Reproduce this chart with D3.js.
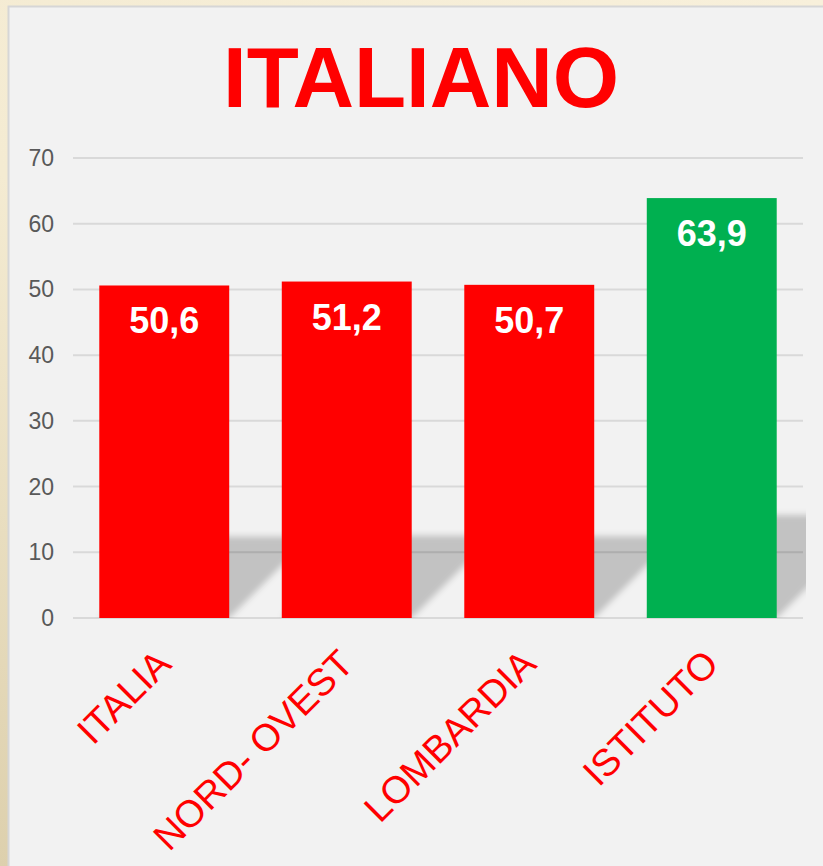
<!DOCTYPE html>
<html lang="it">
<head>
    <meta charset="UTF-8">
    <script src="https://d3js.org/d3.v7.min.js"></script>
    <style>
        body { margin: 0; background: #f6eed8; }
        text { font-family: "Liberation Sans", Arial, sans-serif; }
    </style>
</head>
<body>
<div id="chart"></div>
<script>
    // chart data
    var title = "ITALIANO";
    var categories = ["ITALIA", "NORD- OVEST", "LOMBARDIA", "ISTITUTO"];
    var values = [50.6, 51.2, 50.7, 63.9];
    var valueLabels = ["50,6", "51,2", "50,7", "63,9"];
    var barColors = ["#ff0000", "#ff0000", "#ff0000", "#00b050"];
    var yTicks = [0, 10, 20, 30, 40, 50, 60, 70];

    var W = 823, H = 866;
    var plot = {left: 73, right: 803, top: 158, bottom: 618};

    var svg = d3.select("#chart").append("svg")
        .attr("width", W)
        .attr("height", H);

    var defs = svg.append("defs");

    var bg = defs.append("linearGradient")
        .attr("id", "bg").attr("x1", 1).attr("y1", 0).attr("x2", 0).attr("y2", 1);
    bg.append("stop").attr("offset", "0%").attr("stop-color", "#f8f0db");
    bg.append("stop").attr("offset", "60%").attr("stop-color", "#f4ebd2");
    bg.append("stop").attr("offset", "100%").attr("stop-color", "#ddd0ad");

    defs.append("filter").attr("id", "blur")
        .attr("x", -0.2).attr("y", -0.2).attr("width", 1.4).attr("height", 1.4)
        .append("feGaussianBlur").attr("stdDeviation", 3);

    defs.append("clipPath").attr("id", "plotclip")
        .append("rect")
        .attr("x", plot.left).attr("y", plot.top - 10)
        .attr("width", plot.right - plot.left + 3)
        .attr("height", plot.bottom - plot.top + 10);

    // outer background + panel
    svg.append("rect").attr("width", W).attr("height", H).attr("fill", "url(#bg)");
    svg.append("rect")
        .attr("x", 8.5).attr("y", 6.5)
        .attr("width", W).attr("height", H)
        .attr("fill", "#f2f2f2")
        .attr("stroke", "#d6d6d6")
        .attr("stroke-width", 2);

    // title
    svg.append("text")
        .attr("x", 421)
        .attr("y", 107)
        .attr("text-anchor", "middle")
        .attr("font-size", 86)
        .attr("font-weight", "bold")
        .attr("fill", "#ff0000")
        .attr("textLength", 396)
        .attr("lengthAdjust", "spacingAndGlyphs")
        .text(title);

    var x = d3.scaleBand()
        .domain(categories)
        .range([plot.left, plot.right])
        .paddingInner(0.288)
        .paddingOuter(0.144);

    var y = d3.scaleLinear()
        .domain([0, 70])
        .range([plot.bottom, plot.top]);

    // gridlines
    svg.append("g").selectAll("line")
        .data(yTicks)
        .join("line")
        .attr("x1", plot.left).attr("x2", plot.right)
        .attr("y1", function(d) { return y(d); })
        .attr("y2", function(d) { return y(d); })
        .attr("stroke", "#d9d9d9")
        .attr("stroke-width", 2);

    // y tick labels
    svg.append("g").selectAll("text")
        .data(yTicks)
        .join("text")
        .attr("x", 54)
        .attr("y", function(d) { return y(d) + 8; })
        .attr("text-anchor", "end")
        .attr("font-size", 23)
        .attr("fill", "#595959")
        .text(function(d) { return d; });

    var data = categories.map(function(c, i) {
        return {cat: c, value: values[i], label: valueLabels[i], color: barColors[i]};
    });

    // perspective shadows behind bars
    svg.append("g")
        .attr("clip-path", "url(#plotclip)")
        .selectAll("path")
        .data(data)
        .join("path")
        .attr("d", function(d) {
            var x0 = x(d.cat), x1 = x0 + x.bandwidth();
            var b = y(0);
            var s = (b - y(d.value)) * 0.245;
            return "M" + x0 + "," + b + "L" + x1 + "," + b +
                "L" + (x1 + s) + "," + (b - s) + "L" + (x0 + s) + "," + (b - s) + "Z";
        })
        .attr("fill", "#000")
        .attr("fill-opacity", 0.2)
        .attr("filter", "url(#blur)");

    // bars
    svg.append("g").selectAll("rect")
        .data(data)
        .join("rect")
        .attr("x", function(d) { return x(d.cat); })
        .attr("y", function(d) { return y(d.value); })
        .attr("width", x.bandwidth())
        .attr("height", function(d) { return y(0) - y(d.value); })
        .attr("fill", function(d) { return d.color; });

    // value labels
    svg.append("g").selectAll("text")
        .data(data)
        .join("text")
        .attr("x", function(d) { return x(d.cat) + x.bandwidth() / 2; })
        .attr("y", function(d) { return y(d.value) + 48; })
        .attr("text-anchor", "middle")
        .attr("font-size", 36)
        .attr("font-weight", "bold")
        .attr("fill", "#ffffff")
        .text(function(d) { return d.label; });

    // category labels, rotated
    svg.append("g").selectAll("text")
        .data(categories)
        .join("text")
        .attr("transform", function(d) {
            return "translate(" + (x(d) + x.bandwidth() / 2 + 9) + ",666) rotate(-45)";
        })
        .attr("text-anchor", "end")
        .attr("font-size", 38)
        .attr("fill", "#ff0000")
        .text(function(d) { return d; });
</script>
</body>
</html>
